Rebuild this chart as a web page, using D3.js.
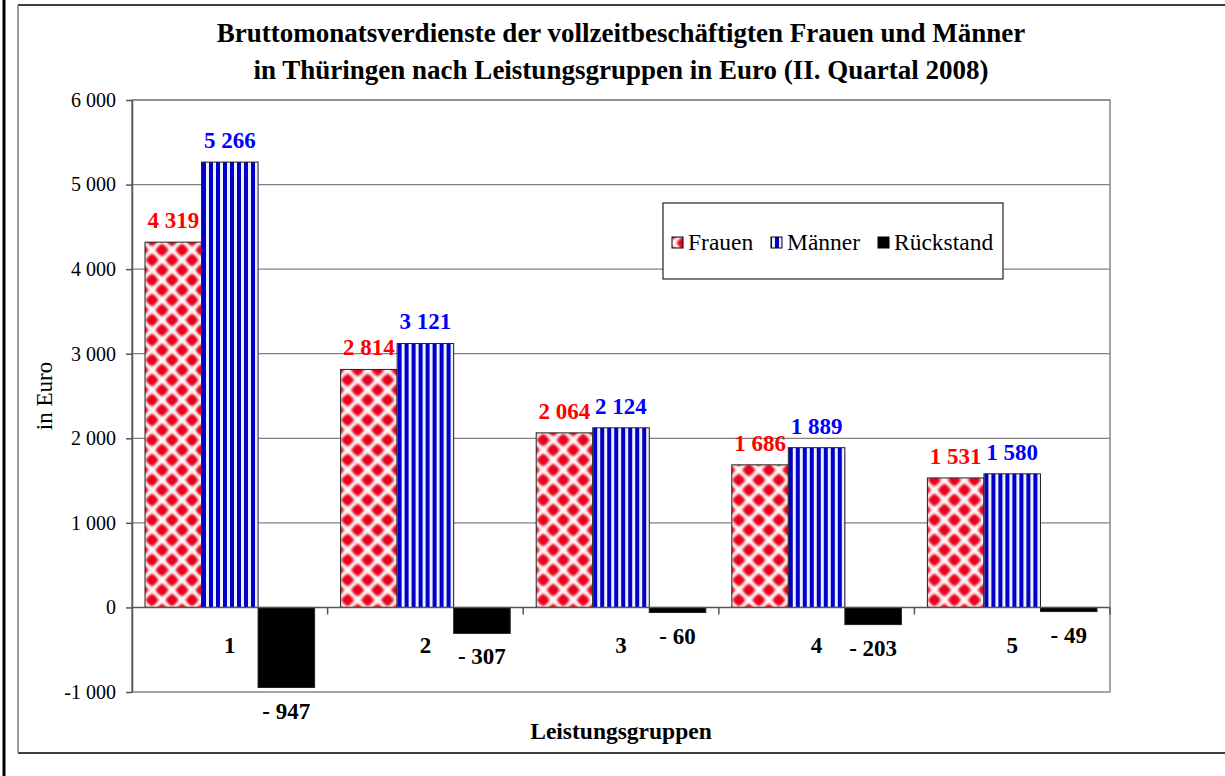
<!DOCTYPE html>
<head>
  <meta charset="utf-8">
  <script src="https://d3js.org/d3.v7.min.js"></script>
  <style>
body {
	margin:0;
	background:#fff;
	}
svg text {
	font-family: "Liberation Serif", "Times New Roman", serif;
	}
.tick text {
	font-size: 20px;
	}
  </style>
</head>

<body>
  <div id="graph"></div>
<script>
// data
var categories = ["1", "2", "3", "4", "5"];
var seriesNames = ["Frauen", "Männer", "Rückstand"];
var frauen = [4319, 2814, 2064, 1686, 1531];
var maenner = [5266, 3121, 2124, 1889, 1580];
var rueckstand = [-947, -307, -60, -203, -49];
var yTicks = [-1000, 0, 1000, 2000, 3000, 4000, 5000, 6000];

var W = 1225, H = 776;
var margin = {top: 100, right: 115, bottom: 84, left: 132},
  width = W - margin.left - margin.right,
  height = H - margin.top - margin.bottom;

var loc = d3.formatLocale({decimal: ",", thousands: " ", grouping: [3], currency: ["", ""], minus: "-"});
var fmt = loc.format(",d");
function labelFmt(v) { return v < 0 ? "- " + fmt(-v) : fmt(v); }

var svg = d3.select("#graph")
  .append("svg")
  .attr("width", W)
  .attr("height", H);

// patterns
var defs = svg.append("defs");
defs.append("filter").attr("id", "soft")
  .append("feGaussianBlur").attr("stdDeviation", 0.9);
var pf = defs.append("pattern")
  .attr("id", "patF")
  .attr("patternUnits", "userSpaceOnUse")
  .attr("width", 20).attr("height", 20);
pf.append("rect").attr("width", 20).attr("height", 20).attr("fill", "#fffafa");
var pfg = pf.append("g").attr("filter", "url(#soft)");
[[0,0],[20,0],[0,20],[20,20],[10,10]].forEach(function(p) {
  pfg.append("path")
    .attr("d", "M" + p[0] + "," + (p[1] - 6.8) + "L" + (p[0] + 6.8) + "," + p[1] + "L" + p[0] + "," + (p[1] + 6.8) + "L" + (p[0] - 6.8) + "," + p[1] + "Z")
    .attr("fill", "#e8001a");
  pfg.append("circle").attr("cx", p[0]).attr("cy", p[1]).attr("r", 5.2).attr("fill", "#e8001a");
});

var pm = defs.append("pattern")
  .attr("id", "patM")
  .attr("patternUnits", "userSpaceOnUse")
  .attr("width", 7).attr("height", 7);
pm.append("rect").attr("width", 7).attr("height", 7).attr("fill", "#eef0ff");
pm.append("rect").attr("x", 0).attr("width", 4).attr("height", 7).attr("fill", "#0000c8");

var fills = {"Frauen": "url(#patF)", "Männer": "url(#patM)", "Rückstand": "#000"};
var labelColors = {"Frauen": "#ff0000", "Männer": "#0000ff", "Rückstand": "#000"};

// outer frame
svg.append("line").attr("x1", 4).attr("x2", 4).attr("y1", 0).attr("y2", H)
  .style("stroke", "#000").style("stroke-width", 3);
svg.append("line").attr("x1", 18).attr("x2", W).attr("y1", 5).attr("y2", 5)
  .style("stroke", "#000").style("stroke-width", 1.5);
svg.append("line").attr("x1", 18).attr("x2", W).attr("y1", 753).attr("y2", 753)
  .style("stroke", "#000").style("stroke-width", 1.5);
svg.append("line").attr("x1", 18).attr("x2", 18).attr("y1", 5).attr("y2", 753)
  .style("stroke", "#777").style("stroke-width", 1.5);

// title
var title = svg.append("text")
  .attr("x", 620)
  .style("text-anchor", "middle")
  .style("font-weight", "bold")
  .style("font-size", "27px");
title.append("tspan").attr("x", 621).attr("y", 42).text("Bruttomonatsverdienste der vollzeitbeschäftigten Frauen und Männer");
title.append("tspan").attr("x", 621).attr("y", 79).text("in Thüringen nach Leistungsgruppen in Euro (II. Quartal 2008)");

var g = svg.append("g").attr("transform", "translate(" + margin.left + "," + margin.top + ")");

var x0 = d3.scaleBand().domain(categories).range([0, width]).paddingInner(0).paddingOuter(0);
var x1 = d3.scaleBand().domain(seriesNames).range([0, x0.bandwidth()]).paddingInner(0).paddingOuter(0.23);
var y = d3.scaleLinear().domain([-1000, 6000]).range([height, 0]);

// plot area border and grid
g.append("rect").attr("width", width).attr("height", height)
  .attr("fill", "none").style("stroke", "#888").style("stroke-width", 1.5);
g.selectAll(".grid")
  .data(yTicks.filter(function(d) { return d > 0; }))
  .enter().append("line")
  .attr("class", "grid")
  .attr("x1", 0).attr("x2", width)
  .attr("y1", function(d) { return y(d); })
  .attr("y2", function(d) { return y(d); })
  .style("stroke", "#808080").style("stroke-width", 1.2);

// y axis
var yaxis = g.append("g")
  .attr("class", "y axis")
  .call(d3.axisLeft(y).tickValues(yTicks).tickFormat(fmt).tickSizeInner(6).tickSizeOuter(0).tickPadding(10));
yaxis.select(".domain").style("stroke", "#555").style("stroke-width", 1.5);
yaxis.selectAll(".tick line").style("stroke", "#555").style("stroke-width", 1.5);
yaxis.selectAll(".tick text").style("fill", "#000");

// y label
g.append("text")
  .attr("transform", "rotate(-90)")
  .attr("x", -(y(2500)))
  .attr("y", -80)
  .style("text-anchor", "middle")
  .style("font-size", "23px")
  .text("in Euro");

// bars
var rows = categories.map(function(c, i) {
  return {cat: c, vals: [
    {key: "Frauen", value: frauen[i]},
    {key: "Männer", value: maenner[i]},
    {key: "Rückstand", value: rueckstand[i]}
  ]};
});

var groups = g.selectAll(".grp")
  .data(rows)
  .enter().append("g")
  .attr("class", "grp")
  .attr("transform", function(d) { return "translate(" + x0(d.cat) + ",0)"; });

groups.selectAll("rect")
  .data(function(d) { return d.vals; })
  .enter().append("rect")
  .attr("x", function(d) { return x1(d.key); })
  .attr("y", function(d) { return y(Math.max(0, d.value)); })
  .attr("width", x1.bandwidth())
  .attr("height", function(d) { return Math.abs(y(d.value) - y(0)); })
  .attr("fill", function(d) { return fills[d.key]; })
  .style("stroke", "#222").style("stroke-width", 1);

groups.selectAll(".val")
  .data(function(d) { return d.vals; })
  .enter().append("text")
  .attr("class", "val")
  .attr("x", function(d) { return x1(d.key) + x1.bandwidth() / 2; })
  .attr("y", function(d) { return d.value >= 0 ? y(d.value) - 14 : y(d.value) + 31; })
  .style("text-anchor", "middle")
  .style("font-weight", "bold")
  .style("font-size", "23px")
  .style("fill", function(d) { return labelColors[d.key]; })
  .text(function(d) { return labelFmt(d.value); });

// x axis at zero
var xaxis = g.append("g")
  .attr("class", "x axis")
  .attr("transform", "translate(0," + y(0) + ")");
xaxis.append("line").attr("x1", 0).attr("x2", width)
  .style("stroke", "#555").style("stroke-width", 1.5);
xaxis.selectAll(".xt")
  .data(categories.slice(1).concat(["end"]))
  .enter().append("line")
  .attr("class", "xt")
  .attr("x1", function(d, i) { return x0.step() * (i + 1); })
  .attr("x2", function(d, i) { return x0.step() * (i + 1); })
  .attr("y1", 0).attr("y2", 7)
  .style("stroke", "#555").style("stroke-width", 1.5);
xaxis.selectAll(".xl")
  .data(categories)
  .enter().append("text")
  .attr("class", "xl")
  .attr("x", function(d) { return x0(d) + x0.bandwidth() / 2; })
  .attr("y", 46)
  .style("text-anchor", "middle")
  .style("font-weight", "bold")
  .style("font-size", "23px")
  .text(function(d) { return d; });

// x axis title
svg.append("text")
  .attr("x", 621)
  .attr("y", 739)
  .style("text-anchor", "middle")
  .style("font-weight", "bold")
  .style("font-size", "23.5px")
  .text("Leistungsgruppen");

// legend
var leg = svg.append("g").attr("transform", "translate(663,203)");
leg.append("rect").attr("width", 340).attr("height", 76)
  .attr("fill", "#fff").style("stroke", "#222").style("stroke-width", 1.2);
var legX = [9, 108, 215];
seriesNames.forEach(function(s, i) {
  leg.append("rect")
    .attr("x", legX[i]).attr("y", 34)
    .attr("width", 11).attr("height", 11)
    .attr("fill", fills[s]).style("stroke", "#000").style("stroke-width", 1);
  leg.append("text")
    .attr("x", legX[i] + 16).attr("y", 47)
    .style("font-size", "23.5px")
    .text(s);
});
</script>
</body>
